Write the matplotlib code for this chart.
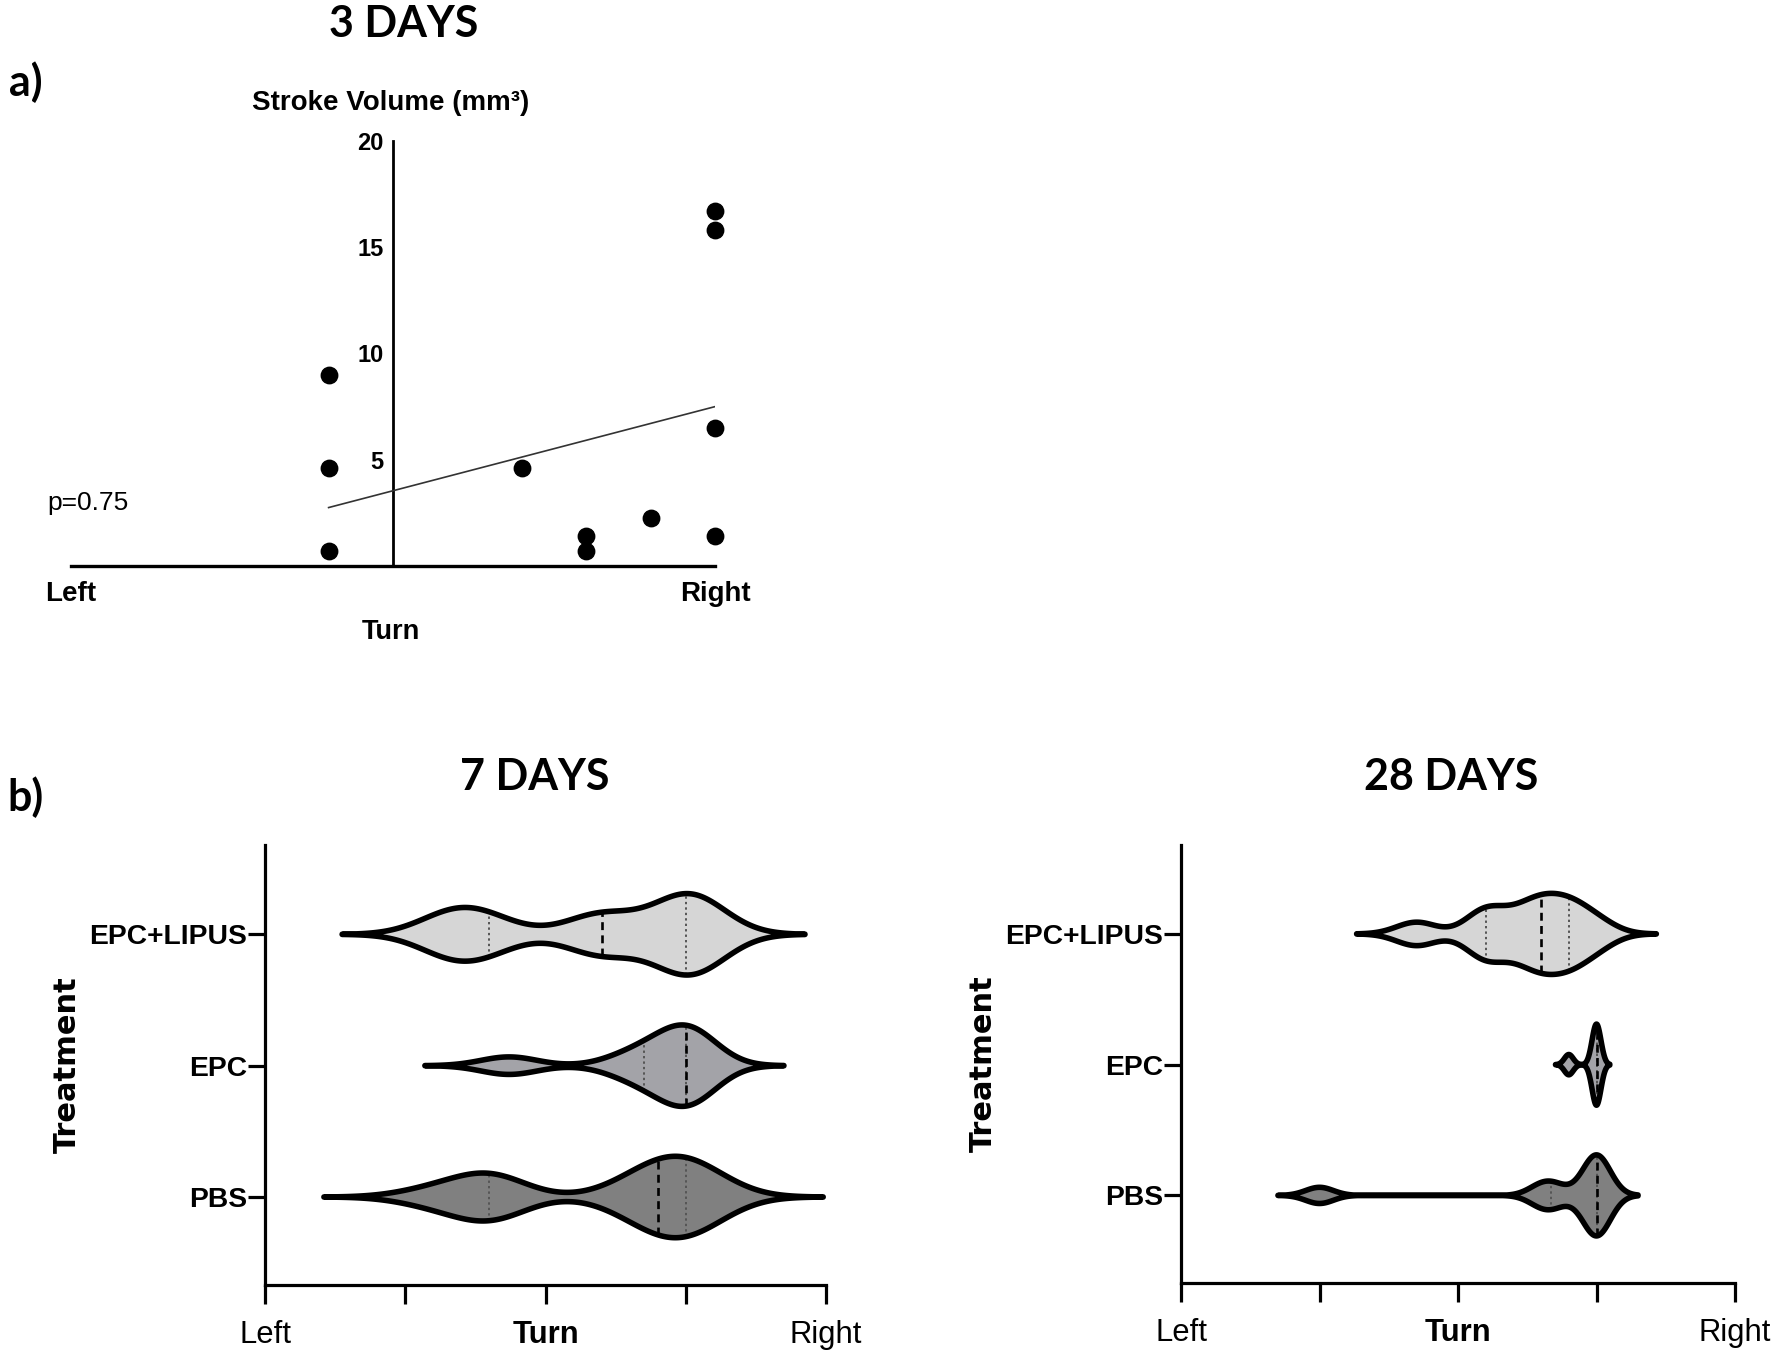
import numpy as np
import matplotlib
matplotlib.use("Agg")
import matplotlib.pyplot as plt
from matplotlib import font_manager

# ---- data -------------------------------------------------------------
# panel a: turn bias vs stroke volume (3 days)
turn_3d = [-0.2, -0.2, -0.2, 0.4, 0.6, 0.6, 0.8, 1.0, 1.0, 1.0, 1.0]
volume_3d = [9.0, 4.6, 0.7, 4.6, 1.4, 0.7, 2.25, 16.7, 15.8, 6.5, 1.4]
trend_x = [-0.2, 1.0]
trend_y = [2.75, 7.5]
p_text = "p=0.75"

# panel b: turn values per treatment
groups = ["PBS", "EPC", "EPC+LIPUS"]
days7_pbs = [-0.4, -0.2, -0.2, -0.2, 0.3, 0.4, 0.4, 0.5, 0.5, 0.5, 0.6]
days7_epc = [-0.13, 0.3, 0.4, 0.5, 0.5, 0.5, 0.55]
days7_lipus = [-0.35, -0.3, -0.2, 0.2, 0.2, 0.5, 0.5, 0.5, 0.55]
days28_pbs = [-0.5, 0.3, 0.35, 0.5, 0.5, 0.5, 0.5, 0.5]
days28_epc = [0.4, 0.5, 0.5, 0.5, 0.5]
days28_lipus = [-0.15, 0.1, 0.1, 0.22, 0.3, 0.3, 0.4, 0.4, 0.5]
bw_7d = [0.13, 0.1, 0.125]
bw_28d = [0.05, 0.016, 0.072]

fills = ["#808080", "#a3a3a8", "#d6d6d6"]

# ---- fonts ------------------------------------------------------------
_names = {f.name for f in font_manager.fontManager.ttflist}
if "Liberation Sans Narrow" in _names:
    NARROW, NS = "Liberation Sans Narrow", 1.2
else:
    NARROW, NS = "Liberation Sans", 1.0
ARIAL = "Liberation Sans"
TITLE = "Lato" if "Lato" in _names else "DejaVu Sans"

W, H = 1784, 1361
fig = plt.figure(figsize=(W / 100, H / 100), dpi=100)


def fx(px):
    return px / W


def fy(py):
    return 1 - py / H


# ---- panel a ----------------------------------------------------------
ax = fig.add_axes([fx(71), fy(566), fx(644), 425 / H])
ax.set_xlim(-1, 1)
ax.set_ylim(0, 20)
ax.spines["left"].set_position(("data", 0))
ax.spines["right"].set_visible(False)
ax.spines["top"].set_visible(False)
ax.spines["bottom"].set_linewidth(2.4)
ax.spines["left"].set_linewidth(2.0)
ax.scatter(turn_3d, volume_3d, s=140, color="black", zorder=4, clip_on=False)
ax.plot(trend_x, trend_y, color="#333333", lw=1.2, zorder=3)
ax.set_yticks([5, 10, 15, 20])
ax.set_yticklabels(["5", "10", "15", "20"], fontfamily=ARIAL,
                   fontweight="bold", fontsize=17)
ax.tick_params(axis="y", length=0, pad=7)
ax.set_xticks([-1, 1])
ax.set_xticklabels(["Left", "Right"], fontfamily=ARIAL, fontweight="bold",
                   fontsize=20)
ax.tick_params(axis="x", length=0, pad=11)

fig.text(fx(391), fy(103), "Stroke Volume (mm³)", ha="center", va="center",
         fontfamily=ARIAL, fontweight="bold", fontsize=20)
fig.text(fx(391), fy(632), "Turn", ha="center", va="center",
         fontfamily=ARIAL, fontweight="bold", fontsize=19.5)
fig.text(fx(88), fy(503), p_text, ha="center", va="center",
         fontfamily=ARIAL, fontsize=19)
fig.text(fx(404), fy(24), "3 DAYS", ha="center", va="center",
         fontfamily=TITLE, fontweight="bold", fontsize=31)
fig.text(fx(26), fy(82), "a)", ha="center", va="center",
         fontfamily=TITLE, fontweight="bold", fontsize=31)
fig.text(fx(26), fy(797), "b)", ha="center", va="center",
         fontfamily=TITLE, fontweight="bold", fontsize=31)


# ---- violins ----------------------------------------------------------
def draw_violin(ax, vals, bw, pos, color, half=0.31, cut=3.0):
    vals = np.asarray(vals, dtype=float)
    grid = np.linspace(vals.min() - cut * bw, vals.max() + cut * bw, 800)
    dens = np.exp(-0.5 * ((grid[None, :] - vals[:, None]) / bw) ** 2).sum(0)
    w = dens / dens.max() * half
    ax.fill_between(grid, pos - w, pos + w, facecolor=color, edgecolor="none",
                    zorder=2)
    q1, med, q3 = np.percentile(vals, [25, 50, 75])
    for q, ls, c, lw in [(q1, (0, (1.2, 1.6)), "#555555", 1.4),
                         (q3, (0, (1.2, 1.6)), "#555555", 1.4),
                         (med, (0, (3, 2)), "black", 1.9)]:
        hw = np.interp(q, grid, w)
        ax.plot([q, q], [pos - hw, pos + hw], color=c, ls=ls, lw=lw, zorder=3)
    ax.fill_between(grid, pos - w, pos + w, facecolor="none",
                    edgecolor="black", linewidth=4.0, joinstyle="round",
                    capstyle="round", zorder=4)


def violin_panel(rect, data, bws, title, title_x):
    ax = fig.add_axes(rect)
    for i, (vals, bw) in enumerate(zip(data, bws)):
        draw_violin(ax, vals, bw, i, fills[i])
    ax.set_xlim(-1, 1)
    ax.set_ylim(-0.67, 2.68)
    for s in ("top", "right"):
        ax.spines[s].set_visible(False)
    for s in ("left", "bottom"):
        ax.spines[s].set_linewidth(2.3)
    ax.set_yticks(range(len(groups)))
    ax.set_yticklabels(groups, fontfamily=NARROW, fontweight="bold",
                       fontsize=20.3 * NS)
    ax.tick_params(axis="y", length=12, width=2.3, pad=1)
    ax.set_xticks([-1, -0.5, 0, 0.5, 1])
    ax.set_xticklabels(["Left", "", "Turn", "", "Right"], fontfamily=NARROW,
                       fontsize=22.3 * NS)
    ax.get_xticklabels()[2].set_fontweight("bold")
    ax.tick_params(axis="x", length=14, width=2.3, pad=11)
    ax.set_ylabel("Treatment", fontfamily="DejaVu Sans", fontweight="bold",
                  fontsize=22, labelpad=5)
    fig.text(fx(title_x), fy(777), title, ha="center", va="center",
             fontfamily=TITLE, fontweight="bold", fontsize=31)
    return ax


violin_panel([fx(265), fy(1285), fx(561), 440 / H],
             [days7_pbs, days7_epc, days7_lipus], bw_7d, "7 DAYS", 535)
violin_panel([fx(1181), fy(1283), fx(554), 438 / H],
             [days28_pbs, days28_epc, days28_lipus], bw_28d, "28 DAYS", 1451)

fig.savefig("out.png", dpi=100)
